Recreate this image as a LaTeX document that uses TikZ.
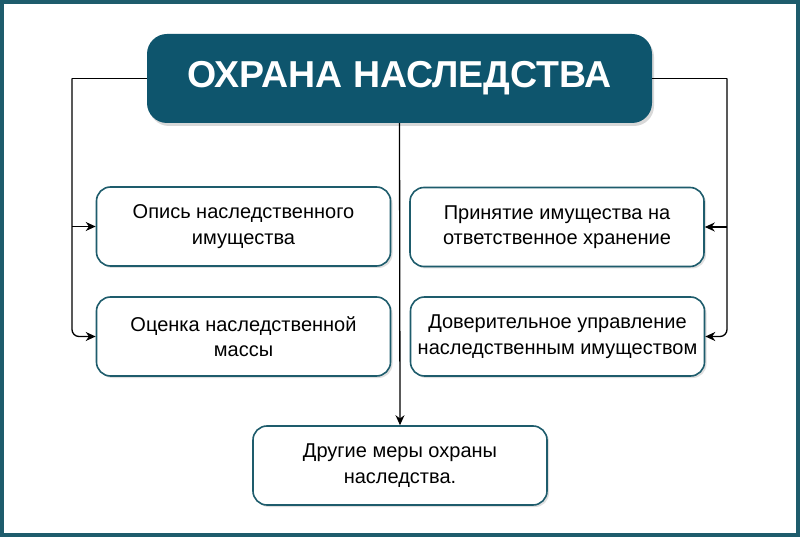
\documentclass[tikz,border=0pt]{standalone}
\usepackage{fontspec}
\setmainfont{Liberation Sans}
\usetikzlibrary{arrows.meta,shadows}

\definecolor{tealdark}{RGB}{14,85,109}
\definecolor{tealline}{RGB}{30,92,108}

\tikzset{
    measure/.style={draw=tealline, line width=1.6pt, fill=white, rounded corners=14pt,
        minimum width=294pt, minimum height=79pt, align=center, inner sep=0pt,
        font=\fontsize{20}{25.5}\selectfont,
        drop shadow={opacity=0.25, shadow xshift=2pt, shadow yshift=-2pt}},
    headbox/.style={fill=tealdark, rounded corners=20pt, text=white,
        minimum width=505pt, minimum height=89pt, inner sep=0pt,
        font=\fontsize{37.5}{40}\bfseries\selectfont,
        drop shadow={opacity=0.3, shadow xshift=2pt, shadow yshift=-3pt}},
    conn/.style={line width=1.3pt, -{Stealth[length=10pt,width=9pt]}}
}

\begin{document}
\begin{tikzpicture}[x=1pt, y=-1pt]
    \useasboundingbox (0,0) rectangle (800,537);
    \fill[white] (0,0) rectangle (800,537);
    \draw[tealline, line width=4pt] (2,2) rectangle (798,535);

    % title
    \node[headbox] (title) at (399.5,78.5) {ОХРАНА НАСЛЕДСТВА};

    % left column
    \node[measure] (inventory) at (243.5,226.5) {Опись наследственного\\имущества};
    \node[measure] (valuation) at (243.5,336.5) {Оценка наследственной\\массы};

    % right column
    \node[measure] (custody) at (557,227) {Принятие имущества на\\ответственное хранение};
    \node[measure] (trust) at (557.5,336.5) {Доверительное управление\\наследственным имуществом};

    % bottom
    \node[measure] (other) at (400,465.5) {Другие меры охраны\\наследства.};

    % connectors
    \draw[line width=1.3pt] (title.west) -- (72,78.5) coordinate (lbus);
    \draw[conn, rounded corners=7pt] (lbus) |- (valuation.west);
    \draw[conn] (lbus |- inventory.west) -- (inventory.west);

    \draw[line width=1.3pt] (title.east) -- (727,78.5) coordinate (rbus);
    \draw[conn, rounded corners=7pt] (rbus) |- (trust.east);
    \draw[conn] (rbus |- custody.east) -- (custody.east);

    \draw[conn] (title.south) -- (other.north);
\end{tikzpicture}
\end{document}
